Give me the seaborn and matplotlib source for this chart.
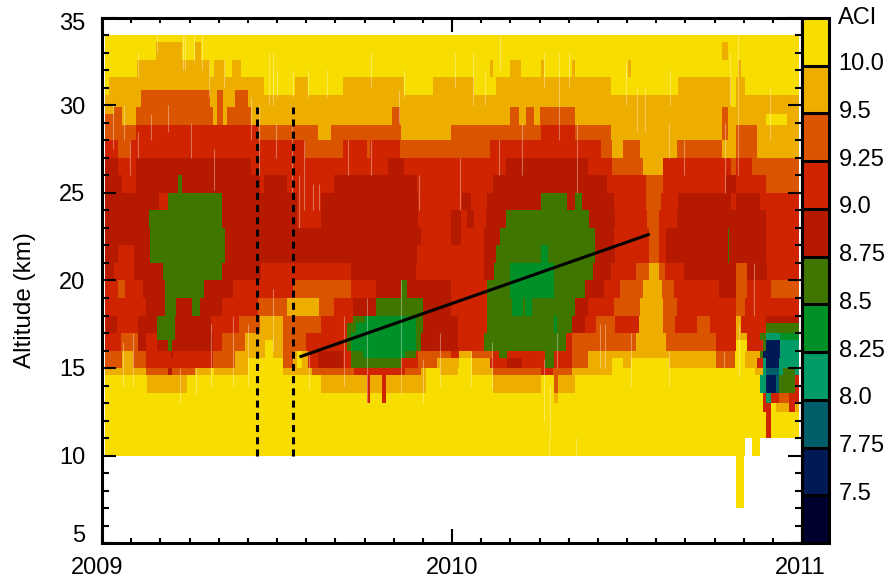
import numpy as np
import pandas as pd
import matplotlib
matplotlib.use('Agg')
import matplotlib.pyplot as plt
from matplotlib.colors import ListedColormap, BoundaryNorm
from matplotlib.transforms import ScaledTranslation
import seaborn as sns

# ACI classes, low to high
aci_bounds = [7.25, 7.5, 7.75, 8.0, 8.25, 8.5, 8.75, 9.0, 9.25, 9.5, 10.0, 10.5]
aci_labels = ['7.5', '7.75', '8.0', '8.25', '8.5', '8.75', '9.0', '9.25', '9.5', '10.0']
aci_colors = ['#00002e', '#001a58', '#005e6a', '#009c68', '#009028', '#3f7600',
              '#b51a00', '#d02400', '#db5500', '#eeae00', '#f8de00']

year_labels = ['2009', '2010', '2011']
alt_labels = ['5', '10', '15', '20', '25', '30', '35']

# each band: (month where the run ends, ACI), months counted from Jan 2009
alt_34 = [(23.88, 10.2)]
alt_33_6 = [(1.87, 10.2), (2.74, 9.7), (3.19, 10.2), (3.41, 9.7), (21.26, 10.2), (21.45, 9.7), (23.88, 10.2)]
alt_32_6 = [(1.22, 10.2), (3.68, 9.7), (3.85, 10.2), (4.19, 9.7), (4.44, 10.2), (4.74, 9.7), (13.32, 10.2),
            (13.41, 9.7), (13.98, 10.2), (14.35, 9.7), (15.03, 10.2), (15.15, 9.7), (16.1, 10.2), (16.2, 9.7),
            (18.06, 10.2), (18.14, 9.7), (21.8, 10.2), (21.9, 9.7), (23.88, 10.2)]
alt_31_6 = [(0.25, 10.2), (5.56, 9.7), (6.59, 10.2), (7.05, 9.7), (8.24, 10.2), (10.36, 9.7), (11.33, 10.2),
            (12.75, 9.7), (13.49, 10.2), (17.43, 9.7), (19.77, 10.2), (21.54, 9.7), (21.75, 10.2), (22.06, 9.7),
            (23.88, 10.2)]
alt_30_9 = [(0.25, 10.2), (1.34, 9.7), (3.71, 9.4), (3.96, 9.7), (4.16, 9.4), (4.53, 9.7), (4.99, 9.4),
            (5.56, 9.7), (6.59, 10.2), (7.05, 9.7), (8.24, 10.2), (10.36, 9.7), (11.33, 10.2), (12.75, 9.7),
            (13.49, 10.2), (17.43, 9.7), (19.77, 10.2), (21.54, 9.7), (21.75, 10.2), (22.06, 9.7), (23.88, 10.2)]
alt_30_55 = [(1.34, 9.7), (3.71, 9.4), (3.96, 9.7), (4.16, 9.4), (4.53, 9.7), (4.99, 9.4), (21.54, 9.7),
             (21.75, 10.2), (23.88, 9.7)]
alt_29_9 = [(0.42, 9.7), (0.71, 9.4), (1.16, 9.7), (3.79, 9.4), (3.94, 9.7), (4.13, 9.4), (4.28, 9.7),
            (5.1, 9.4), (9.96, 9.7), (10.19, 9.4), (13.98, 9.7), (14.29, 9.4), (14.55, 9.7), (14.78, 9.4),
            (14.98, 9.7), (16.2, 9.4), (21.26, 9.7), (21.45, 9.4), (23.88, 9.7)]
alt_29_45 = [(0.42, 9.4), (0.71, 9.4), (1.16, 9.7), (3.79, 9.4), (3.94, 9.7), (4.13, 9.4), (4.28, 9.7),
             (5.1, 9.4), (9.96, 9.7), (10.19, 9.4), (13.98, 9.7), (14.29, 9.4), (14.55, 9.7), (14.78, 9.4),
             (14.98, 9.7), (16.2, 9.4), (21.26, 9.7), (21.45, 9.4), (22.74, 9.7), (23.48, 10.2), (23.88, 9.7)]
alt_28_9 = [(1.16, 9.4), (5.33, 9.1), (7.39, 9.4), (7.85, 9.7), (10.24, 9.4), (11.95, 9.7), (13.32, 9.4),
            (15.03, 9.4), (16.2, 9.1), (17.43, 9.4), (21.26, 9.7), (21.45, 9.4), (21.77, 9.7), (22.46, 9.4),
            (23.88, 9.7)]
alt_28 = [(0.54, 9.1), (0.94, 9.4), (6.93, 9.1), (8.24, 9.4), (9.1, 9.1), (9.22, 9.4), (10.19, 9.1),
          (13.32, 9.4), (17.09, 9.1), (17.49, 9.4), (17.83, 9.7), (18.46, 9.4), (19.72, 9.7), (21.26, 9.4),
          (21.77, 9.7), (22.46, 9.4), (23.88, 9.7)]
alt_27 = [(0.54, 8.9), (1.16, 9.1), (5.1, 8.9), (9.79, 9.1), (10.36, 8.9), (13.83, 9.1), (16.65, 8.9),
          (17.49, 9.1), (18.57, 9.4), (19.26, 9.7), (21.54, 9.1), (21.77, 9.4), (22.28, 9.1), (23.88, 9.4)]
alt_26 = [(0.71, 8.9), (1.16, 9.1), (2.61, 8.9), (2.73, 8.6), (5.39, 8.9), (5.56, 9.1), (6.36, 8.9),
          (7.96, 9.1), (10.81, 8.9), (13.38, 9.1), (17.32, 8.9), (18.63, 9.1), (19.26, 9.4), (21.42, 9.1),
          (21.77, 8.9), (22.74, 9.1), (23.88, 9.4)]
alt_25 = [(1.96, 8.9), (2.25, 9.1), (4.08, 8.6), (6.7, 8.9), (7.5, 9.1), (10.87, 8.9), (12.35, 9.1),
          (12.64, 8.9), (13.21, 9.1), (15.03, 8.9), (15.97, 8.6), (16.2, 8.9), (16.43, 8.6), (17.55, 8.9),
          (18.63, 9.1), (19.14, 9.4), (19.77, 9.1), (21.54, 8.9), (21.75, 9.1), (22.57, 8.9), (23.88, 9.1)]
alt_24 = [(1.59, 8.9), (4.08, 8.6), (6.7, 8.9), (7.5, 9.1), (10.87, 8.9), (11.95, 9.1), (12.29, 8.9),
          (12.52, 9.1), (12.75, 8.9), (13.15, 9.1), (13.87, 8.9), (16.72, 8.6), (17.6, 8.9), (18.69, 9.1),
          (19.09, 9.4), (19.72, 9.1), (22.74, 8.9), (23.88, 9.1)]
alt_23 = [(1.66, 8.9), (4.19, 8.6), (10.93, 8.9), (11.95, 9.1), (12.29, 8.9), (13.09, 9.1), (13.66, 8.9),
          (16.92, 8.6), (17.55, 8.9), (18.74, 9.1), (19.09, 9.4), (19.37, 9.1), (21.45, 8.9), (21.5, 8.6),
          (22.74, 8.9), (23.88, 9.1)]
alt_22 = [(0.56, 8.9), (1.11, 9.1), (1.66, 8.9), (4.19, 8.6), (10.81, 8.9), (13.09, 9.1), (13.49, 8.9),
          (15.03, 8.6), (15.32, 8.4), (16.92, 8.6), (17.6, 8.9), (18.77, 9.1), (19.09, 9.4), (19.37, 9.1),
          (21.45, 8.9), (21.5, 8.6), (22.74, 8.9), (23.88, 9.1)]
alt_21 = [(0.42, 8.9), (1.11, 9.1), (2.08, 8.9), (4.08, 8.6), (5.45, 8.9), (8.53, 9.1), (10.76, 8.9),
          (13.09, 9.1), (13.43, 8.9), (13.98, 8.6), (15.51, 8.4), (16.86, 8.6), (17.43, 8.9), (18.29, 9.1),
          (18.74, 9.4), (19.09, 9.7), (19.32, 9.4), (19.94, 9.1), (21.77, 8.9), (22.11, 9.4), (22.8, 8.9),
          (23.88, 9.1)]
alt_20 = [(0.54, 9.1), (0.82, 9.4), (1.39, 9.1), (2.16, 8.9), (3.48, 8.6), (4.48, 8.9), (6.53, 9.1),
          (8.53, 9.4), (9.42, 9.1), (10.24, 8.9), (10.47, 8.6), (11.95, 8.9), (13.21, 9.1), (13.98, 8.6),
          (15.51, 8.4), (16.57, 8.6), (17.2, 8.9), (17.77, 9.1), (18.57, 9.4), (19.2, 9.7), (19.62, 9.4),
          (21.14, 9.1), (21.77, 8.9), (22.11, 9.4), (22.97, 9.1), (23.88, 9.4)]
alt_19 = [(1.51, 9.1), (2.16, 8.9), (2.53, 8.6), (3.11, 8.9), (3.33, 8.6), (4.08, 8.9), (5.33, 9.1),
          (6.36, 9.4), (7.45, 9.7), (7.96, 9.4), (8.59, 9.1), (9.42, 8.9), (10.99, 8.6), (11.95, 8.9),
          (13.21, 9.1), (14.03, 8.6), (14.44, 8.4), (14.52, 8.6), (14.75, 8.4), (16.2, 8.6), (16.65, 8.9),
          (17.57, 9.1), (18.46, 9.4), (19.26, 9.7), (19.72, 9.4), (21.77, 9.1), (22.06, 9.4), (23.88, 9.1)]
alt_18 = [(0.14, 9.1), (0.48, 8.9), (1.26, 9.1), (1.91, 8.9), (2.5, 8.6), (3.73, 8.9), (4.7, 9.1),
          (5.39, 9.4), (6.22, 9.7), (7.5, 9.4), (8.59, 9.1), (8.99, 8.6), (10.76, 8.4), (10.99, 8.6),
          (12.18, 8.9), (13.21, 9.1), (15.49, 8.6), (15.6, 8.4), (16.12, 8.6), (16.57, 8.9), (16.97, 9.1),
          (17.6, 9.4), (18.4, 9.1), (19.26, 9.7), (19.66, 9.4), (20.4, 9.1), (20.86, 9.4), (21.77, 9.1),
          (21.89, 9.7), (22.74, 9.1), (23.88, 8.9)]
alt_17_6 = [(0.14, 9.1), (0.48, 8.9), (1.26, 9.1), (1.91, 8.9), (2.5, 8.6), (3.73, 8.9), (4.7, 9.1),
            (5.39, 9.4), (6.22, 9.7), (7.5, 9.4), (8.42, 9.1), (8.7, 8.6), (10.76, 8.4), (10.99, 8.6),
            (12.18, 8.9), (13.21, 9.1), (15.49, 8.6), (15.6, 8.4), (16.12, 8.6), (16.57, 8.9), (16.97, 9.1),
            (17.6, 9.4), (18.4, 9.1), (19.26, 9.7), (19.66, 9.4), (20.4, 9.1), (20.86, 9.4), (21.77, 9.1),
            (21.89, 9.7), (22.74, 9.1), (23.88, 8.6)]
alt_17 = [(0.65, 9.1), (1.26, 9.4), (1.51, 8.9), (1.91, 9.1), (2.48, 8.6), (3.79, 8.9), (4.08, 9.1),
          (4.88, 9.4), (6.22, 9.7), (7.0, 9.4), (8.42, 9.1), (8.53, 8.6), (10.76, 8.4), (10.93, 8.6),
          (12.18, 8.9), (13.09, 9.1), (15.89, 8.6), (16.12, 9.1), (18.29, 9.4), (19.35, 9.7), (21.03, 9.4),
          (21.77, 9.1), (22.11, 9.7), (22.57, 9.1), (22.74, 8.6), (23.25, 8.1), (23.88, 8.4)]
alt_16_55 = [(0.65, 9.1), (1.26, 9.4), (1.51, 8.9), (1.91, 9.1), (2.23, 8.9), (2.42, 8.6), (3.79, 8.9),
             (4.08, 9.1), (4.88, 9.4), (5.62, 9.7), (5.85, 10.2), (6.22, 9.7), (7.0, 9.4), (8.42, 9.1),
             (8.53, 8.6), (10.76, 8.4), (10.93, 8.6), (12.18, 8.9), (13.09, 9.1), (15.89, 8.6), (16.12, 9.1),
             (18.29, 9.4), (19.35, 9.7), (21.03, 9.4), (21.77, 9.1), (22.11, 10.2), (22.63, 9.1), (22.74, 8.6),
             (23.25, 7.6), (23.88, 8.1)]
alt_16 = [(0.71, 9.4), (1.05, 9.7), (1.51, 9.4), (2.36, 9.1), (2.45, 8.9), (3.79, 9.1), (4.53, 9.4),
          (5.62, 9.7), (5.85, 10.2), (6.19, 9.7), (6.53, 9.4), (6.7, 9.7), (6.87, 10.2), (7.05, 9.7),
          (7.39, 9.1), (8.24, 8.9), (8.53, 9.1), (8.93, 8.6), (10.41, 8.4), (10.76, 8.6), (10.87, 9.1),
          (11.95, 9.4), (12.24, 9.1), (12.69, 9.7), (13.38, 9.4), (13.6, 9.1), (13.9, 8.6), (15.2, 9.1),
          (15.49, 8.6), (16.12, 9.1), (16.63, 9.4), (21.03, 9.7), (21.71, 9.4), (22.06, 10.2), (22.57, 9.7),
          (22.63, 8.6), (23.25, 7.6), (23.88, 8.1)]
alt_15_55 = [(0.71, 9.4), (1.05, 9.7), (1.51, 9.4), (3.79, 9.1), (4.53, 9.4), (4.99, 9.7), (6.19, 10.2),
             (6.53, 9.4), (6.7, 9.7), (6.87, 10.2), (7.05, 9.7), (7.39, 9.1), (8.24, 8.9), (8.53, 9.1),
             (10.24, 8.6), (10.87, 9.1), (11.5, 9.4), (12.24, 9.7), (12.69, 10.2), (13.32, 9.7), (13.9, 9.1),
             (14.4, 8.9), (15.2, 9.1), (15.49, 8.6), (16.12, 9.1), (16.63, 9.4), (17.49, 9.7), (17.83, 10.2),
             (18.17, 9.7), (19.43, 10.2), (21.03, 9.7), (21.71, 9.4), (22.06, 10.2), (22.46, 9.7), (22.63, 9.1),
             (22.74, 8.1), (23.2, 7.6), (23.88, 8.1)]
alt_15 = [(1.51, 9.7), (2.25, 9.4), (2.42, 8.9), (3.22, 9.4), (3.73, 9.7), (3.85, 10.2), (4.99, 9.7),
          (6.19, 10.2), (7.22, 9.7), (8.64, 9.4), (10.41, 9.1), (10.93, 9.4), (11.1, 9.7), (11.6, 10.2),
          (12.18, 9.7), (12.69, 10.2), (13.38, 9.7), (15.03, 9.4), (15.43, 9.1), (16.12, 9.4), (17.49, 9.7),
          (22.4, 10.2), (22.63, 9.7), (22.74, 8.1), (23.2, 7.9), (23.37, 8.1), (23.77, 8.6), (23.88, 8.1)]
alt_14_55 = [(1.54, 10.2), (2.88, 9.7), (7.5, 10.2), (9.08, 9.7), (9.2, 9.1), (9.6, 9.7), (9.75, 9.1),
             (11.1, 9.7), (13.38, 10.2), (15.03, 9.7), (15.49, 10.2), (15.66, 9.4), (16.2, 9.7), (22.57, 10.2),
             (22.74, 8.1), (23.08, 7.6), (23.2, 7.9), (23.77, 8.6), (23.88, 9.1)]
alt_13_6 = [(9.08, 10.2), (9.2, 9.1), (9.6, 10.2), (9.75, 9.1), (15.49, 10.2), (15.66, 9.7), (22.63, 10.2),
            (22.74, 9.1), (22.97, 8.1), (23.2, 9.1), (23.54, 9.4), (23.88, 9.1)]
alt_13 = [(22.63, 10.2), (22.97, 9.1), (23.08, 10.2), (23.54, 9.7), (23.77, 9.1), (23.88, 9.7)]
alt_12_5 = [(22.74, 10.2), (22.97, 9.1), (23.88, 10.2)]
alt_11 = [(22.06, 10.2), (22.28, np.nan), (22.57, 10.2), (23.88, np.nan)]
alt_10 = [(21.75, np.nan), (22.02, 10.2), (23.88, np.nan)]

# bottom and top altitude of every band, km
bands = [(33.6, 34, alt_34), (32.6, 33.6, alt_33_6), (31.6, 32.6, alt_32_6), (30.9, 31.6, alt_31_6),
         (30.55, 30.9, alt_30_9), (29.9, 30.55, alt_30_55), (29.45, 29.9, alt_29_9), (28.9, 29.45, alt_29_45),
         (28, 28.9, alt_28_9), (27, 28, alt_28), (26, 27, alt_27), (25, 26, alt_26), (24, 25, alt_25),
         (23, 24, alt_24), (22, 23, alt_23), (21, 22, alt_22), (20, 21, alt_21), (19, 20, alt_20),
         (18, 19, alt_19), (17.6, 18, alt_18), (17, 17.6, alt_17_6), (16.55, 17, alt_17), (16, 16.55, alt_16_55),
         (15.55, 16, alt_16), (15, 15.55, alt_15_55), (14.55, 15, alt_15), (13.6, 14.55, alt_14_55),
         (13, 13.6, alt_13_6), (12.5, 13, alt_13), (11, 12.5, alt_12_5), (10, 11, alt_11), (7, 10, alt_10)]

# thin pale columns where the retrieval has gaps
streak_month = [1.87, 2.76, 2.85, 3.16, 3.43, 3.68, 1.22, 4.19, 5.73, 5.85, 6.0, 6.56, 7.05, 7.73, 9.22, 10.36,
                10.19, 0.37, 0.77, 1.22, 1.68, 0.97, 2.25, 3.05, 3.85, 5.1, 5.39, 5.96, 6.53, 6.76, 6.93, 7.22,
                7.45, 8.42, 9.22, 10.87, 0.71, 1.05, 2.68, 3.22, 3.73, 4.48, 4.99, 5.85, 7.1, 8.3, 9.1, 10.24,
                11.0, 11.6, 12.09, 12.73, 13.13, 13.66, 15.15, 15.66, 16.0, 17.95, 18.35, 18.63, 19.49, 21.37,
                21.54, 21.79, 22.91, 19.43, 19.94, 16.3, 14.4, 13.6, 12.29, 12.64, 13.38, 15.15, 15.37, 15.32,
                16.24, 15.6, 17.09, 17.26, 18.12, 19.43, 21.31, 21.83, 22.34]
streak_low = [33, 32, 32, 32.5, 32, 30.5, 31.6, 31, 30, 30, 30.5, 30.5, 30.5, 30.5, 31, 30.5,
              29, 27.5, 28, 27, 28, 26, 28.5, 27, 25.2, 28, 26, 27, 25, 23, 24, 24,
              24, 26, 26, 24, 14, 14, 13, 13.5, 14, 14, 14, 16, 13.8, 14, 13, 13.5,
              13, 14, 31, 30, 30, 32, 31, 28, 31, 30, 28.5, 28.5, 30, 25,
              30, 26, 28, 27, 26, 25, 26, 26, 24, 14, 13.8, 12, 11, 10,
              10, 15, 15, 15, 14, 14, 15, 14.5, 18]
streak_high = [34, 34, 34, 34, 34, 32.6, 33, 32.6, 33, 33, 32, 32, 32, 32, 33, 32,
               30.9, 30, 30, 28.5, 29.5, 28, 30, 29, 27.5, 30.5, 30, 29, 29, 26, 28, 25.5,
               25.5, 28, 28, 26, 16.5, 17, 15, 15, 17.5, 18, 17.5, 19.5, 16, 18, 19, 20,
               15.5, 17, 33, 33, 32, 34, 33, 33, 33, 32.5, 31, 31, 32, 29,
               33, 34, 31, 29, 28, 29, 29, 28, 27, 16, 16.5, 15.5, 14, 11,
               11, 17, 17.5, 17.5, 17, 16, 16, 17.5, 21]

# dashed marks and the fitted ascent line
dash_months = [5.32, 6.56]
dash_bottom = 10
dash_top = 29.9
fit_months = [6.82, 18.73]
fit_alts = [15.66, 22.62]

MONTH_STEP = 0.05
ALT_STEP = 0.1


def build_grid():
    months = np.arange(0, 24, MONTH_STEP) + MONTH_STEP / 2
    alts = np.arange(5, 35, ALT_STEP) + ALT_STEP / 2
    grid = np.full((len(alts), len(months)), np.nan)
    for low, high, runs in bands:
        rows = (alts >= low) & (alts < high)
        start = 0.1
        for end, aci in runs:
            cols = (months >= start) & (months < end)
            grid[np.ix_(rows, cols)] = aci
            start = end
    return pd.DataFrame(grid, index=alts, columns=months)


def x_pos(month):
    return np.asarray(month) / MONTH_STEP


def y_pos(alt):
    return (np.asarray(alt) - 5) / ALT_STEP


def shift_label(label, fig, dx, dy):
    # dx, dy in pixels at 100 dpi
    label.set_transform(label.get_transform() + ScaledTranslation(dx / 100, dy / 100, fig.dpi_scale_trans))


def main():
    df = build_grid()
    plt.rcParams['font.family'] = ['Liberation Sans', 'DejaVu Sans']
    fig = plt.figure(figsize=(8.9, 5.82), dpi=100)
    w, h = 890, 582
    ax = fig.add_axes([102 / w, 1 - 543 / h, 700 / w, 525 / h])
    cax = fig.add_axes([802 / w, 1 - 543 / h, 27 / w, 525 / h])

    cmap = ListedColormap(aci_colors)
    norm = BoundaryNorm(aci_bounds, cmap.N)
    sns.heatmap(df, ax=ax, cbar_ax=cax, cmap=cmap, norm=norm, xticklabels=False, yticklabels=False,
                cbar_kws={'drawedges': True})
    ax.invert_yaxis()
    ax.set_xlim(0, x_pos(24))
    ax.set_ylim(0, y_pos(35))
    ax.set_xlabel('')
    ax.set_ylabel('')

    ax.vlines(x_pos(streak_month), y_pos(streak_low), y_pos(streak_high), color='white', alpha=0.35, lw=0.8)
    for m in dash_months:
        ax.plot(x_pos([m, m]), y_pos([dash_bottom, dash_top]), color='black', lw=2.2,
                linestyle=(0, (2.3, 1.7)), dash_capstyle='butt')
    ax.plot(x_pos(fit_months), y_pos(fit_alts), color='black', lw=2.2)

    # axes frame
    for side in ax.spines:
        ax.spines[side].set_visible(True)
        ax.spines[side].set_linewidth(2.2)
    ax.set_xticks(x_pos([0, 12, 24]), year_labels)
    ax.set_xticks(x_pos(np.arange(0, 25)), minor=True)
    ax.set_yticks(y_pos(np.arange(5, 36, 5)), alt_labels)
    ax.set_yticks(y_pos(np.arange(5, 36)), minor=True)
    ax.tick_params(axis='x', which='major', direction='in', top=True, bottom=True, length=10, width=1.5,
                   labelsize=17, pad=10)
    ax.tick_params(axis='x', which='minor', direction='in', top=True, bottom=True, length=3.6, width=1.5)
    ax.tick_params(axis='y', which='major', direction='in', left=True, right=True, length=10, width=1.5,
                   labelsize=17, pad=12)
    ax.tick_params(axis='y', which='minor', direction='in', left=True, right=True, length=5, width=1.5)
    ylabs = ax.yaxis.get_majorticklabels()
    shift_label(ylabs[0], fig, 0, 10)
    shift_label(ylabs[-1], fig, 0, -4)
    xlabs = ax.xaxis.get_majorticklabels()
    shift_label(xlabs[0], fig, -5, 0)
    shift_label(xlabs[-1], fig, -2, 0)
    ax.text(25 / w, 1 - 300 / h, 'Altitude (km)', transform=fig.transFigure, rotation=90, fontsize=17.5,
            ha='center', va='center')

    # colour key
    cb = ax.collections[0].colorbar
    cb.set_ticks(aci_bounds[1:-1], labels=aci_labels)
    cb.minorticks_off()
    cb.outline.set_visible(True)
    cb.outline.set_linewidth(2.2)
    cb.dividers.set_color('black')
    cb.dividers.set_linewidth(2.2)
    cax.tick_params(length=0, labelsize=17, pad=7)
    for lab in cax.yaxis.get_majorticklabels():
        shift_label(lab, fig, 0, 4)
    fig.text(838 / w, 1 - 18 / h, 'ACI', fontsize=17, ha='left', va='center')

    fig.savefig('out.png', dpi=100)


if __name__ == '__main__':
    main()
